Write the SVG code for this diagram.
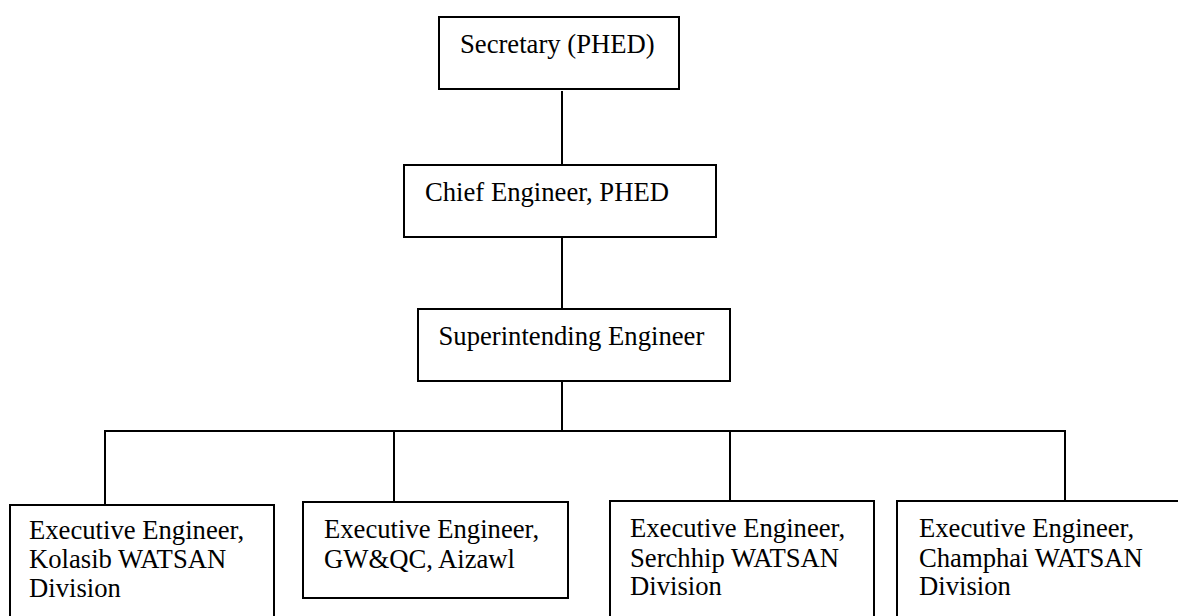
<svg xmlns="http://www.w3.org/2000/svg" width="1178" height="616" viewBox="0 0 1178 616">
<style>
.box{fill:#fff;stroke:#000;stroke-width:2}
.lbl{font-family:"Liberation Serif","Times New Roman",serif;font-size:26.67px;fill:#000}
.conn line{stroke:#000;stroke-width:2}
</style>
<rect width="1178" height="616" fill="#fff"/>
<g id="connectors" class="conn">
<line x1="562" y1="91" x2="562" y2="165"/>
<line x1="562" y1="237" x2="562" y2="309"/>
<line x1="562" y1="381" x2="562" y2="431"/>
<line x1="104" y1="431" x2="1066" y2="431"/>
<line x1="105" y1="431" x2="105" y2="505"/>
<line x1="394" y1="431" x2="394" y2="502"/>
<line x1="730" y1="431" x2="730" y2="501"/>
<line x1="1065" y1="431" x2="1065" y2="501"/>
</g>
<g id="secretary">
<rect class="box" x="439" y="17" width="240" height="72"/>
<text class="lbl" x="460" y="53">Secretary (PHED)</text>
</g>
<g id="chief-engineer">
<rect class="box" x="404" y="165" width="312" height="72"/>
<text class="lbl" x="425" y="201">Chief Engineer, PHED</text>
</g>
<g id="superintending-engineer">
<rect class="box" x="418" y="309" width="312" height="72"/>
<text class="lbl" x="438.5" y="345">Superintending Engineer</text>
</g>
<g id="ee-kolasib">
<rect class="box" x="10" y="505" width="264" height="130"/>
<text class="lbl" x="29" y="539">Executive Engineer,</text>
<text class="lbl" x="29" y="568">Kolasib WATSAN</text>
<text class="lbl" x="29" y="597">Division</text>
</g>
<g id="ee-gwqc">
<rect class="box" x="303" y="502" width="265" height="96"/>
<text class="lbl" x="324" y="538">Executive Engineer,</text>
<text class="lbl" x="324" y="568">GW&amp;QC, Aizawl</text>
</g>
<g id="ee-serchhip">
<rect class="box" x="610" y="501" width="264" height="130"/>
<text class="lbl" x="630" y="537">Executive Engineer,</text>
<text class="lbl" x="630" y="566.5">Serchhip WATSAN</text>
<text class="lbl" x="630" y="595">Division</text>
</g>
<g id="ee-champhai">
<rect class="box" x="897" y="501" width="300" height="130"/>
<text class="lbl" x="919" y="537">Executive Engineer,</text>
<text class="lbl" x="919" y="566.5">Champhai WATSAN</text>
<text class="lbl" x="919" y="595">Division</text>
</g>
</svg>
